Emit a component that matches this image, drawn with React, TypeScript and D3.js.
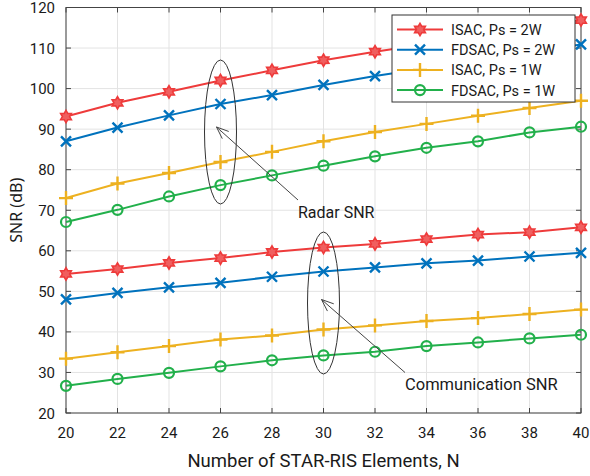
import React from "react";
import * as d3 from "d3";

const elements = [20, 22, 24, 26, 28, 30, 32, 34, 36, 38, 40];
const xTicks = [20, 22, 24, 26, 28, 30, 32, 34, 36, 38, 40];
const yTicks = [20, 30, 40, 50, 60, 70, 80, 90, 100, 110, 120];

const radarIsac2W = [93.1, 96.5, 99.2, 102.0, 104.5, 107.0, 109.1, 111.0, 113.0, 115.0, 116.9];
const radarFdsac2W = [87.0, 90.4, 93.4, 96.2, 98.4, 100.9, 103.1, 105.0, 107.0, 109.0, 110.9];
const radarIsac1W = [73.0, 76.6, 79.2, 81.9, 84.4, 87.0, 89.3, 91.3, 93.3, 95.2, 97.0];
const radarFdsac1W = [67.1, 70.1, 73.4, 76.2, 78.6, 81.0, 83.3, 85.4, 87.0, 89.2, 90.6];

const commIsac2W = [54.3, 55.5, 57.0, 58.2, 59.7, 60.8, 61.7, 62.9, 64.0, 64.6, 65.8];
const commFdsac2W = [48.0, 49.6, 51.0, 52.1, 53.6, 54.9, 55.9, 56.9, 57.6, 58.6, 59.5];
const commIsac1W = [33.4, 35.0, 36.5, 38.1, 39.1, 40.6, 41.6, 42.7, 43.4, 44.4, 45.5];
const commFdsac1W = [26.7, 28.4, 29.9, 31.5, 33.0, 34.2, 35.1, 36.5, 37.4, 38.4, 39.3];

const legendLabels = ["ISAC, Ps = 2W", "FDSAC, Ps = 2W", "ISAC, Ps = 1W", "FDSAC, Ps = 1W"];
const seriesColors = ["#ee3b3b", "#0072bd", "#edb120", "#22b04b"];
const markerKinds = ["hexagram", "x", "plus", "circle"];

const W = 590;
const H = 476;
const M = { left: 66, right: 9, top: 7.5, bottom: 63 };

const FONT = "Roboto, 'Noto Sans', sans-serif";

function hexagramPath(r: number) {
  const pts: string[] = [];
  const ri = r * 0.58;
  for (let i = 0; i < 12; i++) {
    const a = (Math.PI / 6) * i - Math.PI / 2;
    const rr = i % 2 === 0 ? r : ri;
    pts.push(`${(rr * Math.cos(a)).toFixed(2)},${(rr * Math.sin(a)).toFixed(2)}`);
  }
  return "M" + pts.join("L") + "Z";
}

function Marker({ kind, x, y, color }: { kind: string; x: number; y: number; color: string }) {
  if (kind === "hexagram") {
    return (
      <path d={hexagramPath(6.2)} transform={`translate(${x},${y})`} fill="#f05f5f" stroke={color} strokeWidth={1.6} />
    );
  }
  if (kind === "x") {
    const s = 5;
    return (
      <path
        d={`M${x - s},${y - s}L${x + s},${y + s}M${x - s},${y + s}L${x + s},${y - s}`}
        stroke={color}
        strokeWidth={2.4}
        fill="none"
      />
    );
  }
  if (kind === "plus") {
    const s = 7;
    return (
      <path d={`M${x - s},${y}L${x + s},${y}M${x},${y - s}L${x},${y + s}`} stroke={color} strokeWidth={2.4} fill="none" />
    );
  }
  return <circle cx={x} cy={y} r={5} fill="none" stroke={color} strokeWidth={2.2} />;
}

export default function App() {
  const x = d3.scaleLinear().domain([20, 40]).range([M.left, W - M.right]);
  const y = d3.scaleLinear().domain([20, 120]).range([H - M.bottom, M.top]);
  const line = d3
    .line<number>()
    .x((_, i) => x(elements[i]))
    .y((d) => y(d));

  const radar = [radarIsac2W, radarFdsac2W, radarIsac1W, radarFdsac1W];
  const comm = [commIsac2W, commFdsac2W, commIsac1W, commFdsac1W];

  const x0 = x(20);
  const x1 = x(40);
  const y0 = y(20);
  const y1 = y(120);
  const tl = 5;
  const axisColor = "#444";

  const lx = 392;
  const ly = 15;
  const lw = 183;
  const lh = 87;

  const arrowHead = (tx: number, ty: number, fx: number, fy: number) => {
    const ang = Math.atan2(fy - ty, fx - tx);
    const len = 13;
    const spread = 0.38;
    const a1 = ang + spread;
    const a2 = ang - spread;
    return `M${tx + len * Math.cos(a1)},${ty + len * Math.sin(a1)}L${tx},${ty}L${tx + len * Math.cos(a2)},${ty + len * Math.sin(a2)}`;
  };

  return (
    <svg width={W} height={H} style={{ position: "absolute", left: 0, top: 0, background: "#fff" }}>
      <rect x={0} y={0} width={W} height={H} fill="#fff" />
      {/* grid */}
      {xTicks.map((t) => (
        <line key={"gx" + t} x1={x(t)} x2={x(t)} y1={y0} y2={y1} stroke="#e3e3e3" strokeWidth={1} />
      ))}
      {yTicks.map((t) => (
        <line key={"gy" + t} x1={x0} x2={x1} y1={y(t)} y2={y(t)} stroke="#e3e3e3" strokeWidth={1} />
      ))}
      {/* box */}
      <rect x={x0} y={y1} width={x1 - x0} height={y0 - y1} fill="none" stroke={axisColor} strokeWidth={1} />
      {xTicks.map((t) => (
        <g key={"tx" + t}>
          <line x1={x(t)} x2={x(t)} y1={y0} y2={y0 - tl} stroke={axisColor} />
          <line x1={x(t)} x2={x(t)} y1={y1} y2={y1 + tl} stroke={axisColor} />
          <text x={x(t)} y={y0 + 25} textAnchor="middle" fontFamily={FONT} fontSize={15} fill="#1a1a1a">
            {t}
          </text>
        </g>
      ))}
      {yTicks.map((t) => (
        <g key={"ty" + t}>
          <line x1={x0} x2={x0 + tl} y1={y(t)} y2={y(t)} stroke={axisColor} />
          <line x1={x1} x2={x1 - tl} y1={y(t)} y2={y(t)} stroke={axisColor} />
          <text x={x0 - 11} y={y(t) + 5.5} textAnchor="end" fontFamily={FONT} fontSize={15} fill="#1a1a1a">
            {t}
          </text>
        </g>
      ))}
      <text
        x={(x0 + x1) / 2}
        y={467}
        textAnchor="middle"
        fontFamily={FONT}
        fontSize={18.5}
        fill="#1a1a1a"
      >
        Number of STAR-RIS Elements, N
      </text>
      <text
        transform={`translate(22,${(y0 + y1) / 2}) rotate(-90)`}
        textAnchor="middle"
        fontFamily="'Noto Sans', sans-serif"
        fontSize={16}
        fill="#1a1a1a"
      >
        SNR (dB)
      </text>

      {/* series */}
      {[radar, comm].map((group, gi) =>
        group.map((vals, si) => (
          <g key={`s${gi}-${si}`}>
            <path d={line(vals) || ""} fill="none" stroke={seriesColors[si]} strokeWidth={2} />
            {vals.map((v, i) => (
              <Marker key={i} kind={markerKinds[si]} x={x(elements[i])} y={y(v)} color={seriesColors[si]} />
            ))}
          </g>
        ))
      )}

      {/* annotations */}
      <ellipse cx={x(26)} cy={132} rx={16} ry={72} fill="none" stroke="#333" strokeWidth={1} />
      <line x1={298} y1={200} x2={x(26) - 4} y2={127} stroke="#444" strokeWidth={1} />
      <path d={arrowHead(x(26) - 4, 127, 298, 200)} fill="none" stroke="#444" strokeWidth={1} />
      <text x={298} y={218} fontFamily={FONT} fontSize={16} fill="#1a1a1a">
        Radar SNR
      </text>

      <ellipse cx={x(30)} cy={303} rx={16} ry={71} fill="none" stroke="#333" strokeWidth={1} />
      <line x1={405} y1={372.5} x2={x(30) - 2} y2={299.5} stroke="#444" strokeWidth={1} />
      <path d={arrowHead(x(30) - 2, 299.5, 405, 372.5)} fill="none" stroke="#444" strokeWidth={1} />
      <text x={405} y={390} fontFamily={FONT} fontSize={16.5} fill="#1a1a1a">
        Communication SNR
      </text>

      {/* legend */}
      <rect x={lx} y={ly} width={lw} height={lh} fill="#fff" stroke="#333" strokeWidth={1} />
      {legendLabels.map((lab, i) => {
        const ry = 29.5 + i * 20.2;
        return (
          <g key={lab}>
            <line x1={397} x2={443} y1={ry} y2={ry} stroke={seriesColors[i]} strokeWidth={2} />
            <Marker kind={markerKinds[i]} x={420} y={ry} color={seriesColors[i]} />
            <text x={451} y={ry + 5.5} fontFamily={FONT} fontSize={14.5} fill="#1a1a1a">
              {lab}
            </text>
          </g>
        );
      })}
    </svg>
  );
}
